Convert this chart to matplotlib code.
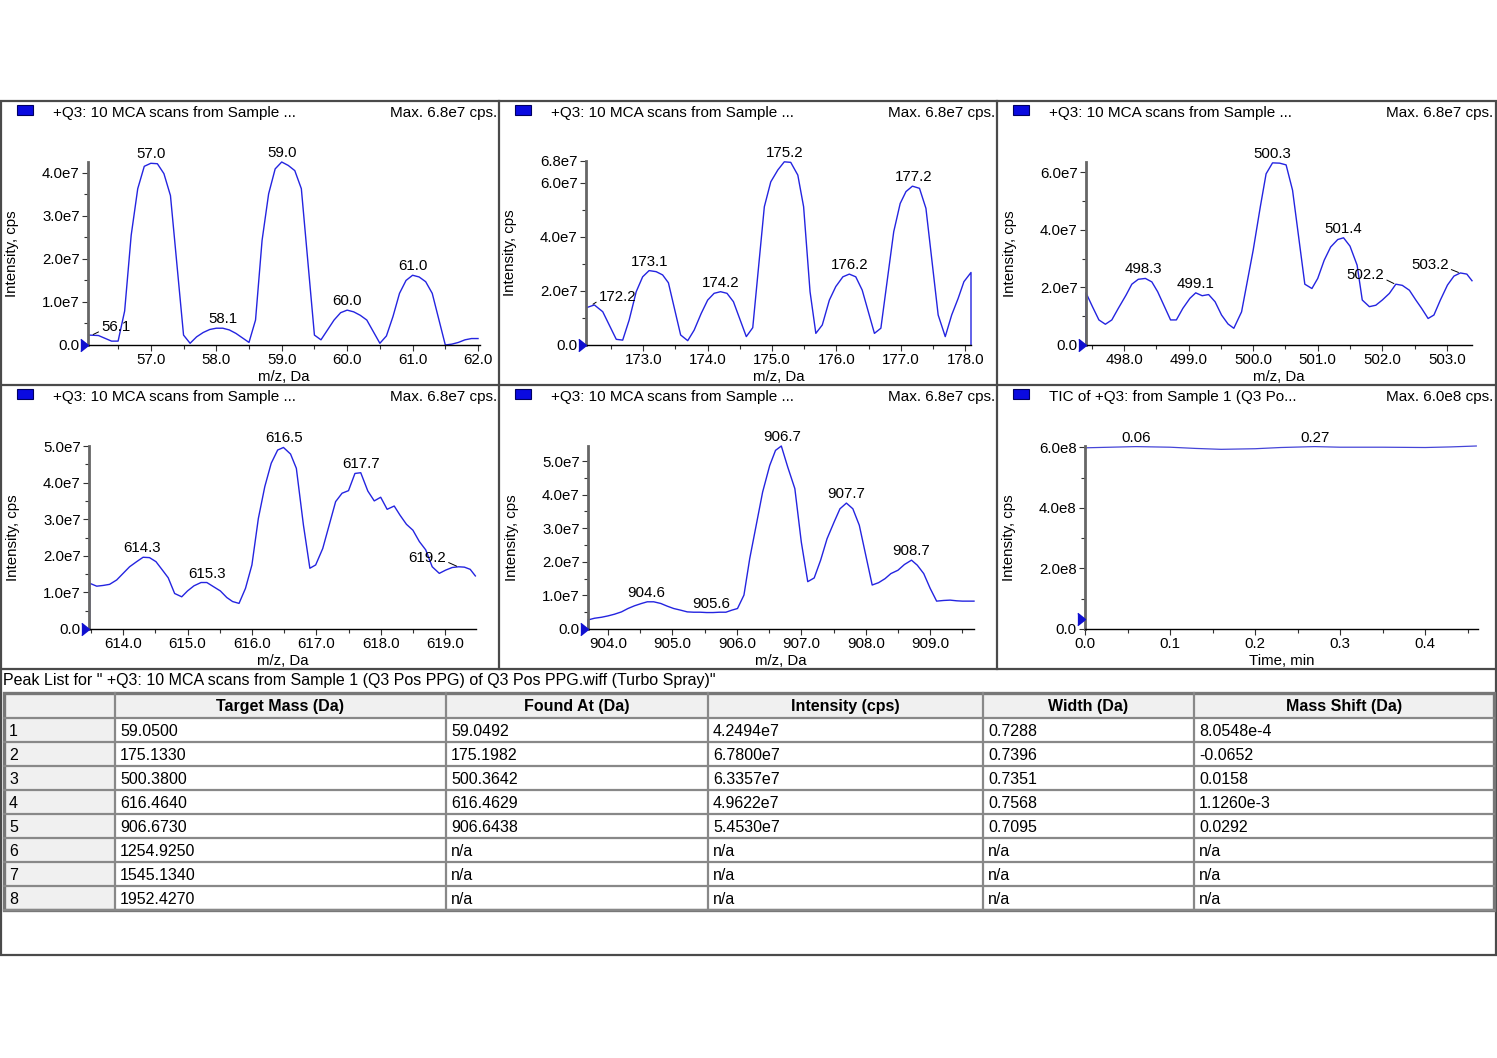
import numpy as np
import matplotlib.pyplot as plt
from matplotlib.ticker import MultipleLocator, FixedLocator, FuncFormatter
from matplotlib.patches import Rectangle

plt.rcParams['font.family'] = ['Liberation Sans', 'DejaVu Sans']

# ---------------- spectra (intensity in units of 1e7 cps) ----------------
mz_59 = [56.06, 56.2, 56.4, 56.5, 56.6, 56.7, 56.8, 56.9, 57.0, 57.1, 57.2, 57.3,
         57.5, 57.6, 57.7, 57.8, 57.9, 58.0, 58.1, 58.2, 58.3, 58.5, 58.6, 58.7,
         58.8, 58.9, 59.0, 59.1, 59.2, 59.3, 59.5, 59.6, 59.7, 59.8, 59.9, 60.0,
         60.1, 60.2, 60.3, 60.5, 60.6, 60.7, 60.8, 60.9, 61.0, 61.1, 61.2, 61.3,
         61.5, 61.6, 61.7, 61.8, 61.9, 62.0]
int_59 = [0.23, 0.22, 0.09, 0.09, 0.79, 2.55, 3.63, 4.15, 4.22, 4.21, 3.98, 3.47,
          0.23, 0.04, 0.19, 0.29, 0.36, 0.39, 0.39, 0.35, 0.27, 0.06, 0.58, 2.43,
          3.51, 4.09, 4.25, 4.17, 4.05, 3.63, 0.23, 0.12, 0.35, 0.58, 0.75, 0.81,
          0.77, 0.69, 0.58, 0.04, 0.21, 0.66, 1.20, 1.50, 1.62, 1.58, 1.47, 1.20,
          0.0, 0.02, 0.06, 0.12, 0.15, 0.15]
peaks_59 = ['56.1', '57.0', '58.1', '59.0', '60.0', '61.0']

mz_175 = [172.13, 172.24, 172.37, 172.58, 172.68, 172.78, 172.89, 172.99, 173.09,
          173.2, 173.3, 173.39, 173.58, 173.69, 173.79, 173.9, 174.0, 174.1, 174.2,
          174.3, 174.4, 174.6, 174.7, 174.88, 174.98, 175.09, 175.19, 175.29, 175.4,
          175.49, 175.59, 175.68, 175.78, 175.89, 175.99, 176.1, 176.2, 176.3, 176.4,
          176.59, 176.69, 176.89, 176.99, 177.08, 177.18, 177.29, 177.39, 177.58,
          177.69, 177.79, 177.89, 177.98, 178.09, 178.09]
int_175 = [1.39, 1.48, 1.23, 0.21, 0.18, 0.92, 1.97, 2.52, 2.75,
           2.71, 2.59, 2.30, 0.37, 0.16, 0.55, 1.17, 1.66, 1.91, 1.97,
           1.91, 1.60, 0.31, 0.64, 5.11, 6.03, 6.47, 6.77, 6.75, 6.28,
           5.11, 1.97, 0.43, 0.74, 1.66, 2.16, 2.52, 2.62, 2.52, 2.03,
           0.43, 0.62, 4.19, 5.23, 5.67, 5.87, 5.79, 5.05, 1.11,
           0.31, 1.11, 1.72, 2.34, 2.68, 0.0]
peaks_175 = ['172.2', '173.1', '174.2', '175.2', '176.2', '177.2', '178.1']

mz_500 = [497.41, 497.41, 497.51, 497.61, 497.71, 497.81, 497.91, 498.03, 498.12,
          498.22, 498.33, 498.43, 498.52, 498.72, 498.81, 498.91, 499.02, 499.11,
          499.21, 499.31, 499.41, 499.51, 499.61, 499.7, 499.82, 500.0, 500.11,
          500.2, 500.3, 500.41, 500.51, 500.61, 500.8, 500.91, 501.0, 501.1, 501.2,
          501.31, 501.4, 501.5, 501.61, 501.69, 501.8, 501.9, 502.0, 502.11, 502.21,
          502.31, 502.42, 502.52, 502.61, 502.71, 502.8, 502.9, 503.01, 503.11,
          503.21, 503.31, 503.39]
int_500 = [0.0, 1.81, 1.33, 0.87, 0.72, 0.87, 1.27, 1.73, 2.11,
           2.28, 2.31, 2.19, 1.85, 0.87, 0.87, 1.27, 1.62, 1.81,
           1.71, 1.75, 1.50, 1.04, 0.73, 0.58, 1.15, 3.29, 4.79,
           5.94, 6.32, 6.31, 6.25, 5.37, 2.11, 1.96, 2.31, 2.94, 3.40,
           3.66, 3.72, 3.43, 2.77, 1.56, 1.33, 1.38, 1.56, 1.79, 2.11,
           2.07, 1.90, 1.56, 1.27, 0.92, 1.04, 1.56, 2.08, 2.39,
           2.50, 2.46, 2.23]
peaks_500 = ['498.3', '499.1', '500.3', '501.4', '502.2', '503.2']

mz_616 = [613.48, 613.48, 613.59, 613.69, 613.79, 613.9, 614.0, 614.1, 614.21,
          614.31, 614.41, 614.51, 614.61, 614.7, 614.8, 614.91, 615.0, 615.1,
          615.21, 615.3, 615.4, 615.51, 615.61, 615.7, 615.8, 615.9, 616.0, 616.1,
          616.2, 616.3, 616.4, 616.49, 616.6, 616.69, 616.8, 616.9, 616.99, 617.1,
          617.2, 617.3, 617.4, 617.5, 617.6, 617.69, 617.8, 617.9, 618.0, 618.1,
          618.21, 618.3, 618.4, 618.5, 618.6, 618.7, 618.8, 618.91, 619.01, 619.11,
          619.21, 619.3, 619.39, 619.47]
int_616 = [0.0, 1.25, 1.17, 1.19, 1.22, 1.34, 1.52, 1.70, 1.84,
           1.96, 1.95, 1.84, 1.61, 1.40, 0.97, 0.88, 1.04, 1.18,
           1.27, 1.27, 1.16, 1.04, 0.86, 0.75, 0.70, 1.11, 1.75, 3.02,
           3.89, 4.53, 4.89, 4.96, 4.78, 4.39, 2.84, 1.66, 1.75, 2.20,
           2.84, 3.48, 3.71, 3.78, 4.25, 4.27, 3.77, 3.50, 3.60, 3.27,
           3.36, 3.11, 2.86, 2.70, 2.39, 2.16, 1.70, 1.52, 1.61, 1.68,
           1.70, 1.69, 1.63, 1.45]
peaks_616 = ['614.3', '615.3', '616.5', '617.7', '619.2']

mz_907 = [903.69, 903.69, 903.79, 903.9, 904.0, 904.1, 904.21, 904.31, 904.41,
          904.52, 904.61, 904.71, 904.82, 904.92, 905.02, 905.13, 905.23, 905.33,
          905.43, 905.53, 905.63, 905.73, 905.83, 905.92, 906.01, 906.11, 906.2,
          906.3, 906.4, 906.51, 906.6, 906.69, 906.79, 906.9, 907.0, 907.1, 907.2,
          907.3, 907.4, 907.51, 907.6, 907.7, 907.8, 907.9, 908.0, 908.1, 908.2,
          908.3, 908.39, 908.5, 908.6, 908.71, 908.8, 908.9, 909.0, 909.1, 909.21,
          909.31, 909.41, 909.5, 909.6, 909.68]
int_907 = [0.0, 0.27, 0.32, 0.35, 0.39, 0.44, 0.51, 0.61, 0.69,
           0.76, 0.81, 0.81, 0.76, 0.68, 0.61, 0.56, 0.51, 0.50,
           0.50, 0.49, 0.49, 0.50, 0.50, 0.56, 0.61, 1.01, 2.10,
           3.09, 4.08, 4.87, 5.32, 5.45, 4.82, 4.18, 2.59, 1.41, 1.52,
           2.05, 2.69, 3.19, 3.58, 3.75, 3.58, 3.09, 2.20, 1.31, 1.38,
           1.50, 1.65, 1.75, 1.92, 2.05, 1.90, 1.65, 1.21, 0.83, 0.85,
           0.86, 0.84, 0.83, 0.83, 0.83]
peaks_907 = ['904.6', '905.6', '906.7', '907.7', '908.7']

# total ion chromatogram (units of 1e8 cps)
tic_time = [0.0, 0.03, 0.06, 0.1, 0.13, 0.16, 0.2, 0.23, 0.27, 0.3, 0.35, 0.4, 0.43, 0.46]
tic_int = [5.98, 6.00, 6.02, 6.00, 5.96, 5.93, 5.95, 5.99, 6.02, 6.00, 6.00, 5.99, 6.01, 6.04]
peaks_tic = ['0.06', '0.27']

panel_titles = ['+Q3: 10 MCA scans from Sample ...'] * 5 + ['TIC of +Q3: from Sample 1 (Q3 Po...']
panel_max = ['Max. 6.8e7 cps.'] * 5 + ['Max. 6.0e8 cps.']

# ---------------- peak table ----------------
table_title = 'Peak List for " +Q3: 10 MCA scans from Sample 1 (Q3 Pos PPG) of Q3 Pos PPG.wiff (Turbo Spray)"'
col_names = ['', 'Target Mass (Da)', 'Found At (Da)', 'Intensity (cps)', 'Width (Da)', 'Mass Shift (Da)']
row_ids = ['1', '2', '3', '4', '5', '6', '7', '8']
target_mass = ['59.0500', '175.1330', '500.3800', '616.4640', '906.6730', '1254.9250', '1545.1340', '1952.4270']
found_at = ['59.0492', '175.1982', '500.3642', '616.4629', '906.6438', 'n/a', 'n/a', 'n/a']
intensity = ['4.2494e7', '6.7800e7', '6.3357e7', '4.9622e7', '5.4530e7', 'n/a', 'n/a', 'n/a']
width = ['0.7288', '0.7396', '0.7351', '0.7568', '0.7095', 'n/a', 'n/a', 'n/a']
mass_shift = ['8.0548e-4', '-0.0652', '0.0158', '1.1260e-3', '0.0292', 'n/a', 'n/a', 'n/a']

W, H = 1497, 1058
BLUE = '#2424e0'
FS = 10.8      # axes text
FS_HEAD = 11.0  # panel header text
FS_TAB = 11.5  # table text


def sci_fmt(v, pos=None):
    if abs(v) < 1e-9:
        return '0.0'
    e = int(np.floor(np.log10(abs(v)) + 1e-9))
    return f'{v / 10 ** e:.1f}e{e}'


fig = plt.figure(figsize=(W / 100, H / 100), dpi=100)
bg = fig.add_axes([0, 0, 1, 1])
bg.set_xlim(0, W)
bg.set_ylim(H, 0)
bg.axis('off')

# outer frame and panel separators
fc = '#4a4a4a'
bg.add_patch(Rectangle((1, 101), 1495, 854, fill=False, lw=1.6, ec=fc))
for yy in (385, 669):
    bg.plot([1, 1496], [yy, yy], color=fc, lw=1.6)
for xx in (499, 997):
    bg.plot([xx, xx], [101, 669], color=fc, lw=1.6)

# panel layout: (cell left, cell top, axes left, axes top, axes right, axes bottom)
layout = [
    (0, 101, 88, 162, 480, 345),
    (498, 101, 586, 161, 971, 345),
    (996, 101, 1086, 162, 1472, 345),
    (0, 385, 89, 446, 476, 629),
    (498, 385, 588, 446, 974, 629),
    (996, 385, 1085, 446, 1478, 629),
]

spectra = [
    (mz_59, int_59, peaks_59, 1e7, (56.04, 62.03), 4.25e7, MultipleLocator(1e7), 0.5e7),
    (mz_175, int_175, peaks_175, 1e7, (172.11, 178.09), 6.8e7,
     FixedLocator([0, 2e7, 4e7, 6e7, 6.8e7]), 1e7),
    (mz_500, int_500, peaks_500, 1e7, (497.41, 503.39), 6.35e7, MultipleLocator(2e7), 1e7),
    (mz_616, int_616, peaks_616, 1e7, (613.47, 619.48), 5.0e7, MultipleLocator(1e7), 0.5e7),
    (mz_907, int_907, peaks_907, 1e7, (903.69, 909.68), 5.45e7, MultipleLocator(1e7), 0.5e7),
    (tic_time, tic_int, peaks_tic, 1e8, (0.0, 0.462), 6.04e8, MultipleLocator(2e8), 1e8),
]

# leader-line labels: text offset in pixels (dx, dy) and side of the text the line leaves from
leaders = {'56.1': (24, 8, 0.0), '172.2': (26, 8, 0.0), '178.1': (-29, 8, 1.0),
           '502.2': (-30, 9, 1.0), '503.2': (-30, 8, 1.0), '619.2': (-31, 9, 1.0)}

for i, ((cx, cy, l, t, r, b), (xs, ys, peaks, unit, xlim, ytop, yloc, yminor)) in enumerate(zip(layout, spectra)):
    x = np.array(xs)
    y = np.array(ys) * unit
    is_tic = i == 5

    ax = fig.add_axes([l / W, 1 - b / H, (r - l) / W, (b - t) / H])
    ax.patch.set_alpha(0)
    ax.plot(x, y, color='#4545d8' if is_tic else BLUE, lw=0.9 if is_tic else 1.0, clip_on=False)
    ax.set_xlim(*xlim)
    ax.set_ylim(0, ytop)

    for s in ('top', 'right'):
        ax.spines[s].set_visible(False)
    ax.spines['left'].set_color('#666666')
    ax.spines['left'].set_linewidth(2.0)
    ax.spines['bottom'].set_color('black')
    ax.spines['bottom'].set_linewidth(1.0)

    ax.yaxis.set_major_locator(yloc)
    ax.yaxis.set_minor_locator(MultipleLocator(yminor))
    ax.yaxis.set_major_formatter(FuncFormatter(sci_fmt))
    if is_tic:
        ax.xaxis.set_major_locator(MultipleLocator(0.1))
        ax.xaxis.set_minor_locator(MultipleLocator(0.05))
    else:
        ax.xaxis.set_major_locator(MultipleLocator(1.0))
        ax.xaxis.set_minor_locator(MultipleLocator(0.5))
    ax.xaxis.set_major_formatter(FuncFormatter(lambda v, p: f'{v:.1f}'))
    ax.tick_params(which='major', length=4, width=0.8, color='#333333', labelsize=FS, pad=2)
    ax.tick_params(which='minor', length=3, width=0.8, color='#333333')

    # small blue pointer at the origin
    ax.plot([xlim[0]], [0.32e8 if is_tic else 0], marker=[(-1, -0.8), (0, 0), (-1, 0.8)],
            ms=11, color='#1010d0', clip_on=False, zorder=5)

    # peak labels
    for p in peaks:
        pv = float(p)
        near = np.abs(x - pv) <= (0.045 if is_tic else 0.06)
        py = y[near].max()
        if p in leaders:
            dx, dy, side = leaders[p]
            ax.annotate(p, xy=(pv, py), xytext=(dx, dy), textcoords='offset pixels',
                        ha='center', va='center', fontsize=FS,
                        arrowprops=dict(arrowstyle='-', lw=0.7, color='black',
                                        relpos=(side, 0.25), shrinkA=0, shrinkB=1))
        else:
            ax.annotate(p, xy=(pv, py), xytext=(0, 2), textcoords='offset pixels',
                        ha='center', va='bottom', fontsize=FS)

    # axis titles
    bg.text(l - 76, (t + b) / 2, 'Intensity, cps', rotation=90, ha='center', va='center', fontsize=FS)
    bg.text((l + r) / 2, b + 32, 'Time, min' if is_tic else 'm/z, Da', ha='center', va='center', fontsize=FS)

    # panel header
    bg.add_patch(Rectangle((cx + 17, cy + 4), 16, 10, fc='#0a0ae0', ec='#000060', lw=0.8))
    bg.text(cx + 53, cy + 12, panel_titles[i], ha='left', va='center', fontsize=FS_HEAD)
    bg.text(cx + 497, cy + 12, panel_max[i], ha='right', va='center', fontsize=FS_HEAD)

# ---------------- table ----------------
bg.text(3, 681, table_title, ha='left', va='center', fontsize=FS_TAB)
col_x = [4, 115, 446, 708, 983, 1194, 1494]
top, head_h, row_h = 693, 25, 24
n_rows = len(row_ids)
bottom = top + head_h + n_rows * row_h
grid_c = '#888888'

bg.add_patch(Rectangle((col_x[0], top), col_x[-1] - col_x[0], head_h, fc='#f0f0f0', ec='none'))
bg.add_patch(Rectangle((col_x[0], top), col_x[1] - col_x[0], bottom - top, fc='#f0f0f0', ec='none'))

for j, name in enumerate(col_names):
    bg.text((col_x[j] + col_x[j + 1]) / 2, top + head_h / 2 + 1, name, ha='center', va='center',
            fontsize=FS_TAB, fontweight='bold')

columns = [row_ids, target_mass, found_at, intensity, width, mass_shift]
for k in range(n_rows):
    yc = top + head_h + k * row_h + row_h / 2 + 1
    for j, col in enumerate(columns):
        bg.text(col_x[j] + 5, yc, col[k], ha='left', va='center', fontsize=FS_TAB)

for k in range(n_rows + 1):
    yy = top + head_h + k * row_h
    bg.plot([col_x[0], col_x[-1]], [yy, yy], color=grid_c, lw=1.6)
for xx in col_x[1:-1]:
    bg.plot([xx, xx], [top, bottom], color=grid_c, lw=1.6)
bg.add_patch(Rectangle((col_x[0], top), col_x[-1] - col_x[0], bottom - top, fill=False, ec='#777777', lw=2.4))

fig.savefig('out.png', dpi=100)
